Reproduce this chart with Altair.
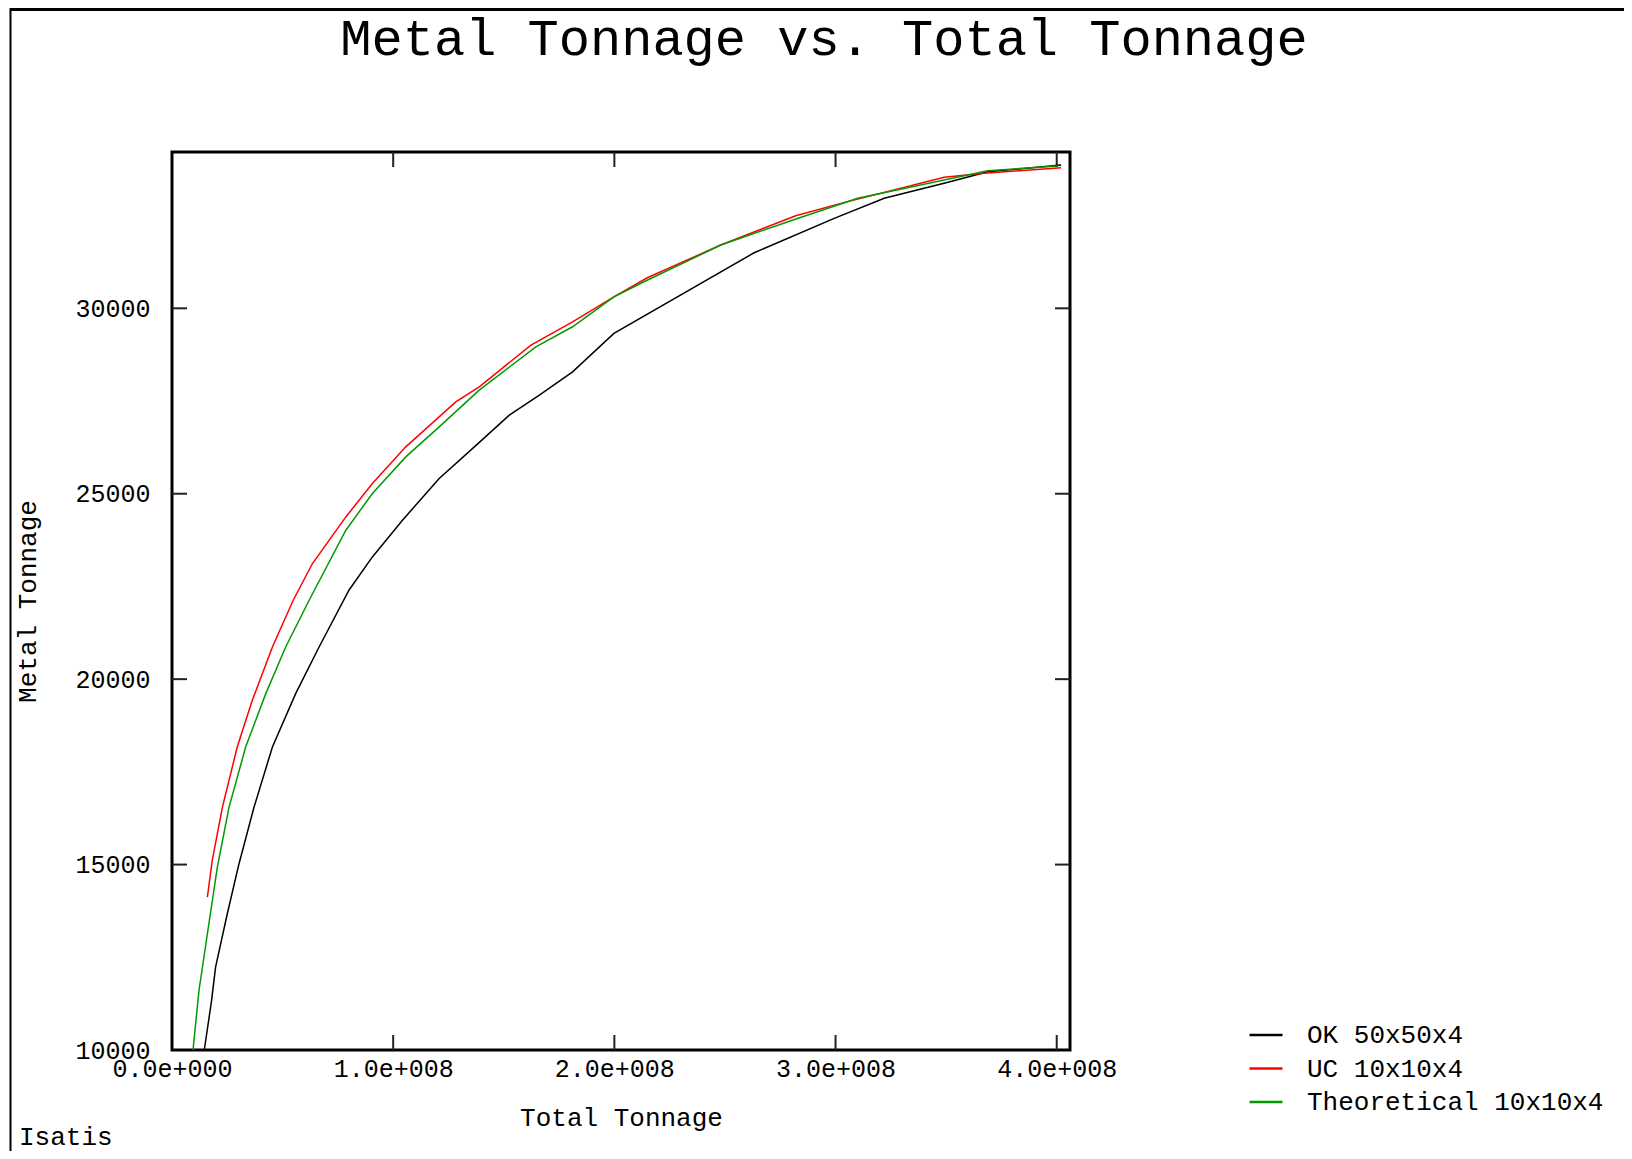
import altair as alt
import pandas as pd

# ---- data (x in tonnes, y = metal tonnage) ----
ok_x = [14.6e6, 17.9e6, 19.7e6, 25.0e6, 30.3e6, 37.1e6, 45.4e6, 55.9e6, 66.5e6, 80.0e6, 90.6e6,
        104.2e6, 120.8e6, 136.7e6, 152.5e6, 166.1e6, 181.1e6, 199.8e6, 263.2e6,
        299.4e6, 322.0e6, 349.1e6, 368.8e6, 402.0e6]
ok_y = [10000, 11336, 12234, 13675, 15024, 16551, 18170, 19610, 20867, 22397, 23296,
        24286, 25411, 26264, 27119, 27659, 28287, 29323, 31498,
        32426, 32966, 33370, 33683, 33864]

uc_x = [16.0e6, 18.2e6, 22.8e6, 29.5e6, 36.3e6, 45.4e6, 54.8e6, 63.5e6, 78.6e6, 90.6e6,
        105.7e6, 128.3e6, 138.9e6, 162.3e6, 181.1e6, 199.8e6, 214.9e6, 248.1e6,
        282.0e6, 302.4e6, 349.1e6, 367.2e6, 402.0e6]
uc_y = [14123, 15113, 16551, 18170, 19430, 20867, 22128, 23118, 24375, 25276,
        26264, 27478, 27883, 29007, 29636, 30311, 30823, 31706,
        32496, 32830, 33532, 33640, 33791]

th_x = [9.5e6, 12.2e6, 16.0e6, 20.5e6, 25.8e6, 33.3e6, 42.4e6, 51.4e6, 62.0e6, 78.6e6,
        90.6e6, 105.7e6, 120.8e6, 138.9e6, 164.5e6, 181.1e6, 199.8e6, 213.4e6,
        248.1e6, 279.8e6, 310.0e6, 349.1e6, 368.8e6, 400.5e6]
th_y = [10000, 11605, 13135, 14932, 16551, 18170, 19610, 20867, 22128, 24016,
        25006, 25994, 26803, 27794, 28962, 29502, 30311, 30715,
        31706, 32361, 32966, 33459, 33710, 33837]

series_names = ["OK 50x50x4", "UC 10x10x4", "Theoretical 10x10x4"]
series_colors = ["#000000", "#ff0000", "#009a00"]

x_ticks = [0, 1e8, 2e8, 3e8, 4e8]
y_ticks = [10000, 15000, 20000, 25000, 30000]
inner_x_ticks = [1e8, 2e8, 3e8, 4e8]
inner_y_ticks = [15000, 20000, 25000, 30000]

title_text = "Metal Tonnage vs. Total Tonnage"
x_title = "Total Tonnage"
y_title = "Metal Tonnage"
footer_text = "Isatis"

X_DOMAIN = [0, 4.06e8]
Y_DOMAIN = [10000, 34215]

W, H = 898, 898
PAD_L, PAD_T = 164, 144
PAD_R = 1616 - PAD_L - W
PAD_B = 1143 - PAD_T - H
FONT = "Liberation Mono"

rows = []
for name, xs, ys in zip(series_names, [ok_x, uc_x, th_x], [ok_y, uc_y, th_y]):
    for i, (a, b) in enumerate(zip(xs, ys)):
        rows.append({"series": name, "x": a, "y": b, "i": i})
df = pd.DataFrame(rows)

xscale = alt.Scale(domain=X_DOMAIN, nice=False, zero=False)
yscale = alt.Scale(domain=Y_DOMAIN, nice=False, zero=False)

label_expr = "datum.value == 0 ? '0.0e+000' : format(datum.value / 1e8, '.1f') + 'e+008'"

lines = alt.Chart(df).mark_line(strokeWidth=1.5, clip=True).encode(
    x=alt.X("x:Q", scale=xscale,
            axis=alt.Axis(values=x_ticks, labelExpr=label_expr, ticks=False, domain=False,
                          grid=False, labelFontSize=25, labelPadding=6, labelColor="#000000",
                          labelFlush=False, labelOverlap=False, title=x_title,
                          titleFontSize=26, titleFontWeight="normal", titleColor="#000000",
                          titleX=449, titleY=67, titleBaseline="middle", titleAlign="center")),
    y=alt.Y("y:Q", scale=yscale,
            axis=alt.Axis(values=y_ticks, format="d", ticks=False, domain=False, grid=False,
                          labelFontSize=25, labelPadding=22, labelColor="#000000",
                          labelFlush=False, labelOverlap=False, title=y_title,
                          titleFontSize=26, titleFontWeight="normal", titleColor="#000000",
                          titleX=-145, titleY=449, titleAngle=270,
                          titleBaseline="middle", titleAlign="center")),
    color=alt.Color("series:N",
                    scale=alt.Scale(domain=series_names, range=series_colors),
                    legend=alt.Legend(title=None, orient="none", legendX=1076, legendY=865,
                                      symbolType="stroke", symbolSize=1089,
                                      symbolStrokeWidth=2.5, labelFontSize=26,
                                      labelColor="#000000", labelOffset=23,
                                      rowPadding=2.5, padding=0, labelLimit=600)),
    order="i:Q",
)

xt = pd.DataFrame({"v": inner_x_ticks})
yt = pd.DataFrame({"v": inner_y_ticks})
tick_style = dict(color="#222222", strokeWidth=2)

bottom_ticks = alt.Chart(xt).mark_rule(**tick_style).encode(
    x=alt.X("v:Q", scale=xscale), y=alt.value(H), y2=alt.value(H - 15))
top_ticks = alt.Chart(xt).mark_rule(**tick_style).encode(
    x=alt.X("v:Q", scale=xscale), y=alt.value(0), y2=alt.value(15))
left_ticks = alt.Chart(yt).mark_rule(**tick_style).encode(
    y=alt.Y("v:Q", scale=yscale), x=alt.value(0), x2=alt.value(15))
right_ticks = alt.Chart(yt).mark_rule(**tick_style).encode(
    y=alt.Y("v:Q", scale=yscale), x=alt.value(W), x2=alt.value(W - 15))

title_mark = alt.Chart(pd.DataFrame({"t": [title_text]})).mark_text(
    font=FONT, fontSize=52, color="#000000", align="center", baseline="alphabetic"
).encode(text="t:N", x=alt.value(652), y=alt.value(-97))

footer_mark = alt.Chart(pd.DataFrame({"t": [footer_text]})).mark_text(
    font=FONT, fontSize=26, color="#000000", align="left", baseline="alphabetic"
).encode(text="t:N", x=alt.value(-153), y=alt.value(993))

frame_top = alt.Chart(pd.DataFrame({"a": [0]})).mark_rule(color="#000000", strokeWidth=3).encode(
    x=alt.value(-162), x2=alt.value(W + PAD_R), y=alt.value(-142.5))
frame_left = alt.Chart(pd.DataFrame({"a": [0]})).mark_rule(color="#000000", strokeWidth=2).encode(
    x=alt.value(-161.5), y=alt.value(-144), y2=alt.value(H + PAD_B))

chart = alt.layer(
    frame_top, frame_left, bottom_ticks, top_ticks, left_ticks, right_ticks,
    lines, title_mark, footer_mark
).properties(
    width=W, height=H,
    autosize=alt.AutoSizeParams(type="none"),
    padding={"left": PAD_L, "top": PAD_T, "right": PAD_R, "bottom": PAD_B},
    background="white",
).configure(font=FONT).configure_view(stroke="#000000", strokeWidth=3)

chart.save("out.html", embed_options={"renderer": "svg", "actions": False})
